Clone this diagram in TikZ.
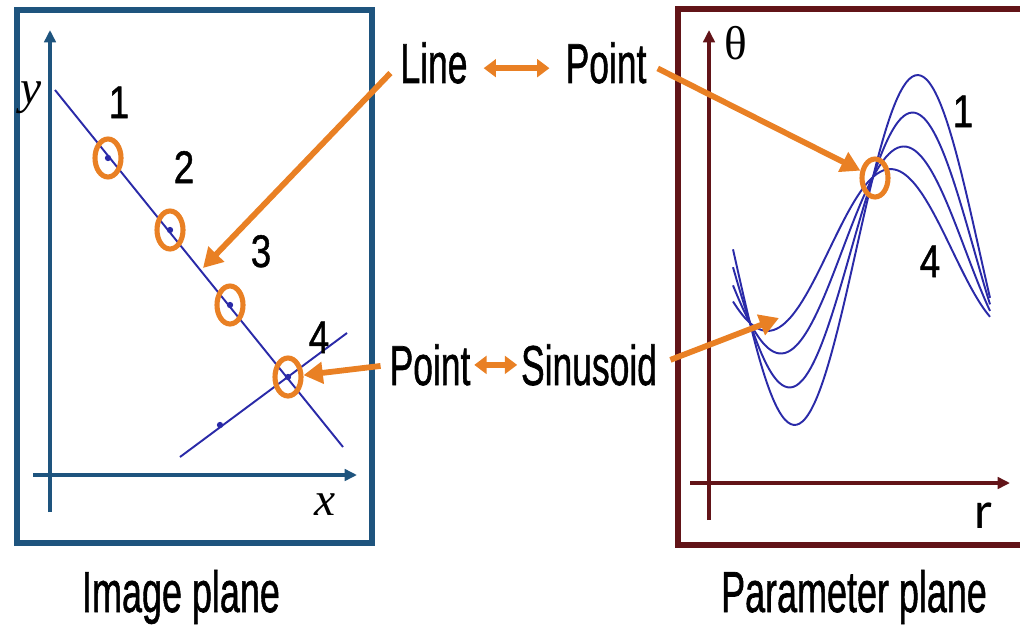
\documentclass[tikz,border=0pt]{standalone}
\usepackage{fontspec}
\setmainfont[FakeBold=1.2]{Liberation Sans}
\newfontfamily\serifa{Liberation Serif}
\newfontfamily\calib{Carlito}
\usetikzlibrary{arrows.meta,shapes.geometric}
\newcommand{\estreito}[2][0.63]{\scalebox{#1}[1]{#2}}
\definecolor{azulmold}{RGB}{30,84,126}
\definecolor{vinho}{RGB}{98,20,24}
\definecolor{laranja}{RGB}{233,128,36}
\definecolor{azulcurva}{RGB}{42,42,168}
\begin{document}
\begin{tikzpicture}[x=0.02cm, y=-0.02cm,
        every node/.style={inner sep=0pt},
        moldura/.style={line width=2.9pt},
        eixo/.style={-{Triangle[length=7pt,width=6.5pt]}, line width=2pt},
        reta/.style={azulcurva, line width=1.1pt},
        curva/.style={azulcurva, line width=1.1pt},
        anel/.style={draw=laranja, line width=2.9pt, ellipse, minimum width=0.52cm, minimum height=0.76cm},
        seta/.style={-{Triangle[length=11pt,width=12pt]}, laranja, line width=3.3pt},
        dupla/.style={{Triangle[length=7pt,width=10pt]}-{Triangle[length=7pt,width=10pt]}, laranja, line width=3.6pt},
        rotulo/.style={font=\fontsize{32}{36}\selectfont, anchor=base},
        numero/.style={font=\fontsize{26}{28}\selectfont, anchor=base},
        legenda/.style={font=\fontsize{33}{36}\selectfont, anchor=base}
    ]
        \clip (0,0) rectangle (1020,625);

        % Molduras
        \draw[moldura, azulmold] (17,10) rectangle (372,543);
        \draw[moldura, vinho] (678,9) rectangle (1040,545);

        % Plano da imagem
        \draw[eixo, azulmold] (50,512) -- (50,30);
        \draw[eixo, azulmold] (33,475) -- (357,475);
        \node[font=\serifa\itshape\fontsize{27}{30}\selectfont, anchor=base] (ly) at (31,104) {y};
        \node[font=\serifa\itshape\fontsize{27}{30}\selectfont, anchor=base] (lx) at (325,515) {x};
        \draw[reta] (55,90) -- (343,447);
        \draw[reta] (180,457) -- (347,333);
        \fill[azulcurva] (220,425) circle (1.8pt);
        \foreach \n/\px/\py/\lx/\ly in {1/108/158/119/118, 2/170/230/184/183, 3/230/305/261/267, 4/288/377/319/353} {
            \fill[azulcurva] (\px,\py) circle (1.8pt);
            \node[anel] (c\n) at (\px,\py) {};
            \node[numero] (n\n) at (\lx,\ly) {\estreito[0.8]{\n}};
        }

        % Textos do meio
        \node[rotulo] (line1) at (434,83) {\estreito{Line}};
        \node[rotulo] (pt1) at (606,83) {\estreito{Point}};
        \node[rotulo] (pt2) at (430,385) {\estreito{Point}};
        \node[rotulo] (sinus) at (589,385) {\estreito{Sinusoid}};
        \draw[dupla, shorten <=9pt, shorten >=9pt] ([yshift=-3pt]line1.east) -- ([yshift=-3pt]pt1.west);
        \draw[dupla, shorten <=2pt, shorten >=2pt] (pt2.east) -- (sinus.west);

        % Plano dos parametros
        \draw[eixo, vinho] (709,520) -- (709,30);
        \draw[eixo, vinho] (690,483) -- (1010,483);
        \node[font=\serifa\fontsize{27}{30}\selectfont, anchor=base] (lt) at (736,60) {θ};
        \node[font=\calib\fontsize{30}{32}\selectfont, anchor=base] (lr) at (984,528) {r};
        \foreach \b in {159,116.5,73.4,35}
            \draw[curva] plot[smooth, samples=90, domain=733:990]
                (\x, {250 + 73*cos(1.4634*(\x-750)) + \b*sin(1.4634*(\x-750))});
        \node[anel] (cP) at (875,178) {};
        \node[numero] (r1) at (963,127) {\estreito[0.8]{1}};
        \node[numero] (r4) at (930,277) {\estreito[0.8]{4}};
        \coordinate (alvo) at (203,268);
        \coordinate (onda) at (779,318);

        % Setas
        \draw[seta, shorten <=8pt] (line1.west) -- (alvo);
        \draw[seta, shorten <=5pt] (pt2.west) -- (c4);
        \draw[seta, shorten <=7pt] (pt1.east) -- (cP);
        \draw[seta, shorten <=8pt] (sinus.east) -- (onda);

        % Legendas
        \node[legenda] (leg1) at (181,612) {\estreito[0.62]{Image plane}};
        \node[legenda] (leg2) at (854,612) {\estreito[0.62]{Parameter plane}};
    \end{tikzpicture}
\end{document}
